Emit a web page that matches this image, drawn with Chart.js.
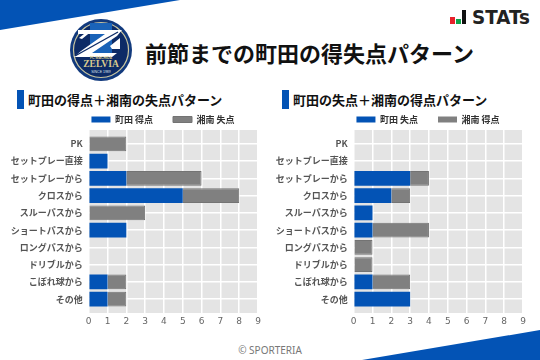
<!DOCTYPE html>
<html lang="ja"><head><meta charset="utf-8">
<script src="https://cdn.jsdelivr.net/npm/chart.js@4"></script>
<style>
html,body{margin:0;padding:0;width:540px;height:360px;overflow:hidden;background:#fff;font-family:"Noto Sans CJK JP",sans-serif}
.abs{position:absolute;white-space:nowrap}
canvas{position:absolute}
#wrapL{position:absolute;left:0;top:104px;width:328px;height:226px}
#wrapR{position:absolute;left:265px;top:104px;width:328px;height:226px}
</style></head><body>
<svg class="abs" style="left:0;top:0" width="540" height="360">
<polygon points="0,0 180,0 0,30" fill="#0353b5"/>
<polygon points="362,360 540,330 540,360" fill="#0353b5"/>
<rect x="17" y="90" width="7" height="19" fill="#0353b5"/>
<rect x="282" y="90" width="7" height="19" fill="#0353b5"/>
<circle cx="101" cy="50" r="31" fill="#123a7d"/>
<circle cx="101" cy="50" r="27.5" fill="#0d2b66" stroke="#c9c6a0" stroke-width="1.2"/>
<path d="M90 23h22v32H90z" fill="#1a63b8"/>
<path d="M78 30h44l-5 6-25 17h25l-5 4H74l7-6 24-17H78z" fill="#fff"/>
<path d="M79 38l10-8h4l-11 9zM110 46l10-8v11h-8z" fill="#fff"/>
<path d="M75 56L118 32" stroke="#0d2b66" stroke-width="1.4"/>
<text x="101" y="67" text-anchor="middle" font-family="Liberation Serif" font-weight="700" font-size="9.5" fill="#d9c98e">ZELVIA</text>
<text x="101" y="59" text-anchor="middle" font-family="Liberation Sans" font-weight="700" font-size="3.5" fill="#d9c98e">FC MACHIDA</text>
<text x="101" y="73" text-anchor="middle" font-family="Liberation Sans" font-size="3.5" fill="#dfe6f0">SINCE 1989</text>
<rect x="450" y="17" width="5" height="7" fill="#e8212b"/>
<rect x="456" y="19" width="5" height="5" fill="#0fa34a"/>
<rect x="462" y="10" width="4" height="14" fill="#111"/>
<text x="472" y="24" font-family="DejaVu Sans" font-weight="700" font-size="19" textLength="58" lengthAdjust="spacingAndGlyphs" fill="#222">STATs</text>
</svg>
<div class="abs" style="left:145px;top:36px;font-size:22px;line-height:32px;font-weight:700;color:#111">前節までの町田の得失点パターン</div>
<div class="abs" style="left:28px;top:90px;font-size:13px;line-height:19px;font-weight:700;color:#111">町田の得点＋湘南の失点パターン</div>
<div class="abs" style="left:293px;top:90px;font-size:13px;line-height:19px;font-weight:700;color:#111">町田の失点＋湘南の得点パターン</div>
<div class="abs" style="left:0;width:540px;text-align:center;top:343px;font-size:10px;line-height:14px;color:#777;font-family:'Noto Sans'">© SPORTERIA</div>
<div id="wrapL"><canvas id="chartL"></canvas></div>
<div id="wrapR"><canvas id="chartR"></canvas></div>
<script>
const categories = ["PK","セットプレー直接","セットプレーから","クロスから","スルーパスから","ショートパスから","ロングパスから","ドリブルから","こぼれ球から","その他"];
const xTicks = [0,1,2,3,4,5,6,7,8,9];
const leftLabelA = "町田 得点";
const leftLabelB = "湘南 失点";
const rightLabelA = "町田 失点";
const rightLabelB = "湘南 得点";
const leftSeriesA = [0,1,2,5,0,2,0,0,1,1];
const leftSeriesB = [2,0,4,3,3,0,0,0,1,1];
const rightSeriesA = [0,0,3,2,1,1,0,0,1,3];
const rightSeriesB = [0,0,1,1,0,3,1,1,2,0];
const BLUE = "#0353b5", GRAY = "#808080";
const panel = {id:"panel",
  beforeLayout(c){const l=c.legend;if(l&&!l._fixed){l._fixed=true;const f=l.fit.bind(l);l.fit=function(){f();this.height=26;this.bottom=this.top+26;};}},
  afterLayout(c){const l=c.legend;l.left+=34;l.right+=34;l.top-=9;},
  beforeDraw(c){const a=c.chartArea,x=c.ctx;x.save();x.fillStyle="#e4e4e4";x.fillRect(a.left,a.top,a.right-a.left,a.bottom-a.top);x.restore();}};
function pts(arr){return arr.map((v,i)=>({x:v,y:i}));}
function make(id,la,lb,a,b,yWidth){
  new Chart(document.getElementById(id),{
    type:"bar",
    plugins:[panel],
    data:{labels:categories,datasets:[
      {label:la,data:pts(a),backgroundColor:BLUE,borderWidth:0},
      {label:lb,data:pts(b),backgroundColor:GRAY,borderColor:"#737373",borderWidth:v=>v.raw&&v.raw.x?1:0}
    ]},
    options:{
      indexAxis:"y",responsive:false,animation:false,
      layout:{padding:{right:70,left:0,top:0,bottom:0}},
      datasets:{bar:{barPercentage:0.85,categoryPercentage:1}},
      plugins:{tooltip:{enabled:false},
        legend:{position:"top",labels:{boxWidth:19,boxHeight:6,padding:20,color:"#333",font:{family:'"Noto Sans CJK JP"',size:9,weight:"700"}}}},
      scales:{
        x:{type:"linear",stacked:true,min:0,max:9,
          grid:{color:"#fff",lineWidth:1.5,drawTicks:false},border:{display:false},
          afterFit(s){s.height=17;},
          afterBuildTicks(s){s.ticks=xTicks.map(v=>({value:v}));},
          ticks:{padding:3,color:"#666",maxRotation:0,autoSkip:false,font:{family:'"DejaVu Sans"',size:9}}},
        y:{type:"linear",stacked:true,reverse:true,offset:false,min:-0.8,max:9.8,
          grid:{color:"#fff",lineWidth:1.5,drawTicks:false,offset:false},border:{display:false},
          afterFit(s){s.width=yWidth;},
          ticks:{stepSize:1,includeBounds:false,autoSkip:false,maxTicksLimit:30,padding:6,color:"#555",
            font:{family:'"Noto Sans CJK JP"',size:9,weight:"700"},
            callback:v=>categories[v]}}
      }
    }
  });
}
for(const [id,w] of [["chartL",328],["chartR",328]]){const c=document.getElementById(id);c.width=w;c.height=226;c.style.width=w+"px";c.style.height="226px";}
make("chartL",leftLabelA,leftLabelB,leftSeriesA,leftSeriesB,88.7);
make("chartR",rightLabelA,rightLabelB,rightSeriesA,rightSeriesB,88.7);
</script>
</body></html>
